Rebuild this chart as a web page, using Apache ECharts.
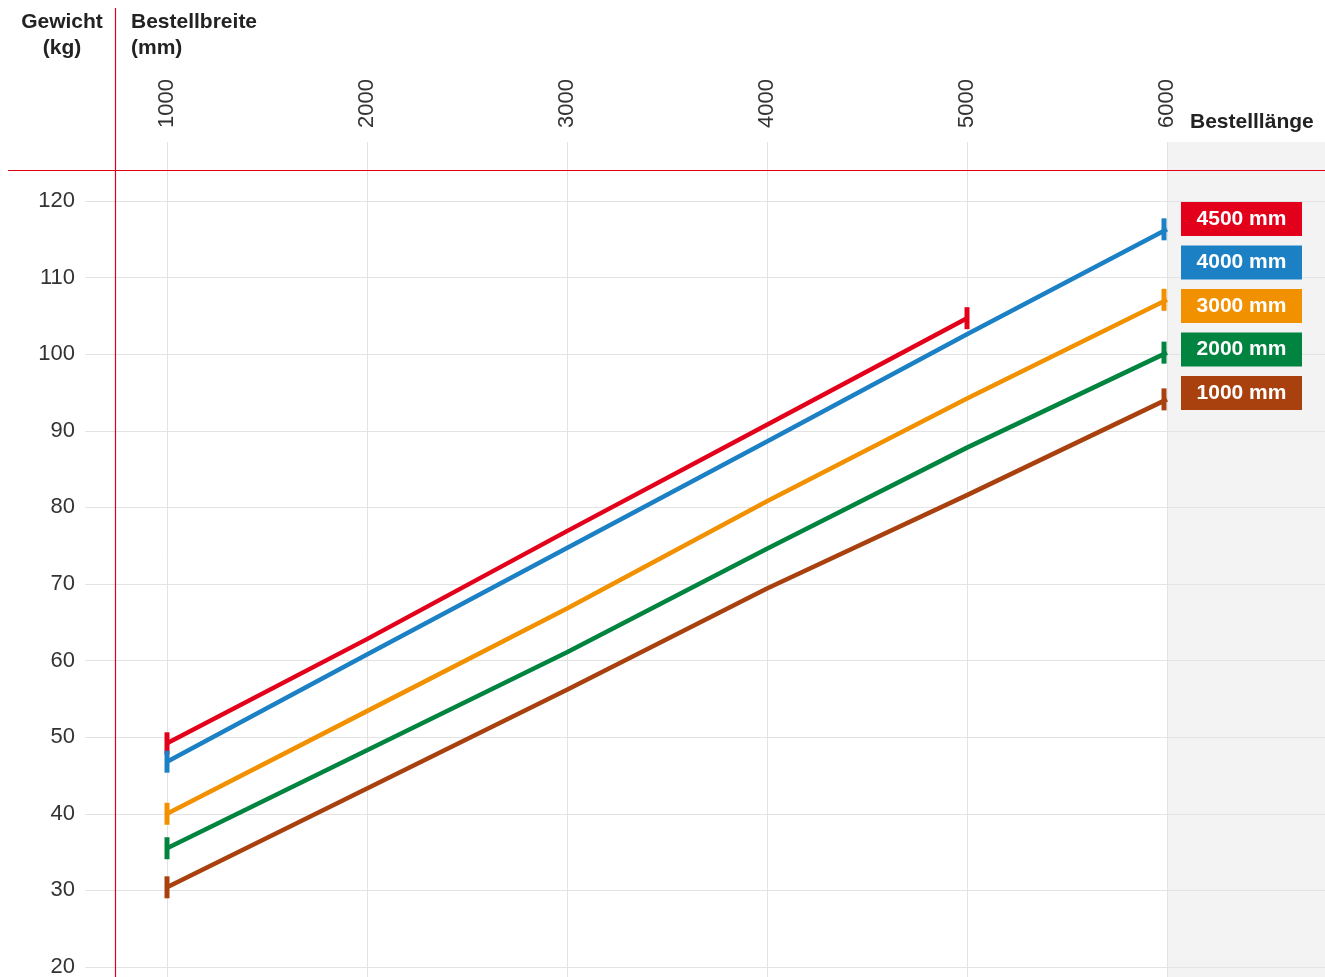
<!DOCTYPE html>
<html>
<head>
<meta charset="utf-8">
<script src="https://cdn.jsdelivr.net/npm/echarts@6/dist/echarts.min.js"></script>
<style>
html,body{margin:0;padding:0;background:#fff;}
#chart{width:1325px;height:977px;}
</style>
</head>
<body>
<div id="chart"></div>
<script>
// ---- data ----
const widths = [1000, 2000, 3000, 4000, 5000, 6000];           // Bestellbreite (mm)
const seriesNames = ['4500 mm', '4000 mm', '3000 mm', '2000 mm', '1000 mm']; // Bestelllänge
const len4500 = [49.2, 62.8, 76.9, 90.8, 104.7];
const len4000 = [46.8, 60.8, 74.7, 88.6, 102.6, 116.3];
const len3000 = [40.0, 53.4, 66.8, 80.8, 94.2, 107.1];
const len2000 = [35.5, 48.3, 61.1, 74.6, 87.8, 100.2];
const len1000 = [30.4, 43.3, 56.2, 69.4, 81.6, 94.1];
const xTicks = [1000, 2000, 3000, 4000, 5000, 6000];
const yTicks = [20, 30, 40, 50, 60, 70, 80, 90, 100, 110, 120];

// ---- styling ----
const colors = ['#e3001b', '#1c80c5', '#f29100', '#00843f', '#a9410e'];
const values = [len4500, len4000, len3000, len2000, len1000];
const xMin = 590, xMax = 6790, yMin = 18.69, yMax = 127.7;
const FONT = 'Liberation Sans, Arial, Helvetica, sans-serif';

const chart = echarts.init(document.getElementById('chart'), null, {renderer: 'canvas'});

const lineSeries = values.map((vals, si) => ({
  name: seriesNames[si],
  type: 'line',
  z: 5,
  color: colors[si],
  lineStyle: {width: 4.5, color: colors[si], cap: 'butt'},
  showSymbol: true,
  showAllSymbol: true,
  symbol: 'rect',
  symbolSize: [5, 22],
  itemStyle: {color: colors[si]},
  emphasis: {disabled: true},
  data: vals.map((v, i) => {
    const isEnd = (i === 0 || i === vals.length - 1);
    const item = {value: [widths[i], v]};
    if (!isEnd) item.symbol = 'none';
    if (isEnd && widths[i] === 6000) item.symbolOffset = [-3, 0];
    return item;
  })
}));

const richStyles = {};
seriesNames.forEach((n, i) => {
  richStyles['s' + i] = {
    color: '#fff', fontWeight: 'bold', fontSize: 21, fontFamily: FONT,
    backgroundColor: colors[i], width: 121, height: 34, lineHeight: 34, align: 'center'
  };
});

const option = {
  animation: false,
  backgroundColor: '#fff',
  grid: {left: 85, right: 0, top: 142, bottom: 0, containLabel: false, outerBoundsMode: 'none'},
  xAxis: {
    type: 'value', position: 'top', min: xMin, max: xMax,
    axisLine: {show: false}, axisTick: {show: false}, splitLine: {show: false},
    axisLabel: {
      customValues: xTicks, rotate: -90, margin: 14,
      fontSize: 22, color: '#333', fontFamily: FONT,
      formatter: function (v) { return String(v); }
    }
  },
  yAxis: {
    type: 'value', min: yMin, max: yMax,
    axisLine: {show: false}, axisTick: {show: false}, splitLine: {show: false},
    axisLabel: {
      customValues: yTicks, margin: 10,
      fontSize: 22, color: '#333', fontFamily: FONT
    }
  },
  legend: {
    orient: 'vertical', left: 1171, top: 197, itemGap: 9.5, z: 20,
    itemWidth: 0, itemHeight: 0, icon: 'rect', selectedMode: false,
    data: seriesNames,
    formatter: function (name) { return '{s' + seriesNames.indexOf(name) + '|' + name + '}'; },
    textStyle: {rich: richStyles, padding: 0}
  },
  series: [{
    name: 'helper', type: 'line', data: [], z: 1, silent: true,
    markArea: {
      silent: true, z: 0,
      itemStyle: {color: '#f3f3f3'},
      data: [[{xAxis: 6000}, {xAxis: xMax}]]
    },
    markLine: {
      silent: true, symbol: 'none', animation: false, z: 1,
      label: {show: false},
      lineStyle: {color: '#e3e3e3', width: 1, type: 'solid'},
      data: yTicks.map(v => ({yAxis: v})).concat(xTicks.map(v => ({xAxis: v})))
    }
  }].concat(lineSeries),
  graphic: [
    {type: 'line', z: 10, shape: {x1: 8, y1: 170.5, x2: 1325, y2: 170.5}, style: {stroke: '#e3001b', lineWidth: 1.2}},
    {type: 'line', z: 10, shape: {x1: 115.5, y1: 8, x2: 115.5, y2: 977}, style: {stroke: '#e3001b', lineWidth: 1.2}},
    {type: 'text', x: 62, y: 9, style: {text: 'Gewicht\n(kg)', fill: '#222', font: 'bold 21px ' + FONT, lineHeight: 26, textAlign: 'center'}},
    {type: 'text', x: 131, y: 9, style: {text: 'Bestellbreite\n(mm)', fill: '#222', font: 'bold 21px ' + FONT, lineHeight: 26, textAlign: 'left'}},
    {type: 'text', x: 1190, y: 122, style: {text: 'Bestelllänge', fill: '#222', font: 'bold 21px ' + FONT, textAlign: 'left', textVerticalAlign: 'middle'}}
  ]
};
chart.setOption(option);
</script>
</body>
</html>
